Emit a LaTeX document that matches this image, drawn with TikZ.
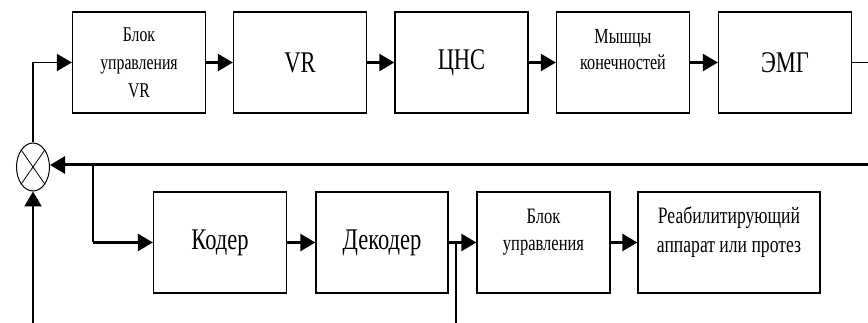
\documentclass[tikz,border=0pt]{standalone}
\usepackage{fontspec}
\usetikzlibrary{arrows.meta,shapes.geometric}
\newfontfamily\blockfont[FakeStretch=0.75]{Liberation Serif}

\tikzset{
	blockbox/.style={draw, line width=1.3pt, minimum width=133pt, minimum height=101pt,
		align=center, inner sep=2pt, font=\blockfont\fontsize{30}{34}\selectfont},
	smalltext/.style={font=\blockfont\fontsize{21}{28}\selectfont},
	raised/.style={text depth=#1},
	flow/.style={line width=2.2pt, -{Triangle[length=15pt,width=17pt]}},
	wire/.style={line width=1.2pt}
}

\begin{document}
\begin{tikzpicture}[x=1pt, y=-1pt]
	\useasboundingbox (0,0) rectangle (868,323);
	
	\node[blockbox, smalltext] (ctrlvr) at (139,62.5) {Блок\\управления\\VR};
	\node[blockbox] (vr) at (300,62.5) {VR};
	\node[blockbox] (cns) at (461.5,62.5) {ЦНС};
	\node[blockbox, font=\blockfont\fontsize{21.5}{26}\selectfont, raised=26pt] (muscle) at (623,62.5) {Мышцы\\конечностей};
	\node[blockbox] (emg) at (785,62.5) {ЭМГ};
	
	\node[blockbox] (coder) at (220,242.5) {Кодер};
	\node[blockbox, minimum width=132pt] (decoder) at (382,242.5) {Декодер};
	\node[blockbox, font=\blockfont\fontsize{22}{27}\selectfont, raised=26pt] (ctrl) at (543.5,242.5) {Блок\\управления};
	\node[blockbox, minimum width=182pt, font=\blockfont\fontsize{23.5}{29}\selectfont, raised=26pt] (rehab) at (729,242.5) {Реабилитирующий\\аппарат или протез};
	
	\node[draw, ellipse, line width=1pt, minimum width=33pt, minimum height=48pt, inner sep=0pt] (sum) at (33,167) {};
	\draw[line width=0.8pt] (sum.north west) -- (sum.south east);
	\draw[line width=0.8pt] (sum.north east) -- (sum.south west);
	
	\coordinate (turn) at (874,165);
	\coordinate (split) at (93,165);
	\coordinate (in) at (33,330);
	\coordinate (tap) at (456,330);
	
	\draw[flow, line width=1.8pt] (sum.north) |- (ctrlvr.west);
	\draw[flow] (ctrlvr) -- (vr);
	\draw[flow] (vr) -- (cns);
	\draw[flow] (cns) -- (muscle);
	\draw[flow] (muscle) -- (emg);
	\draw[wire] (emg.east) -| (turn);
	\draw[flow, line width=3pt] (turn) -- (sum.east |- turn);
	
	\draw[wire, line width=1.5pt] (split) -- (split |- coder.west);
	\draw[flow, line width=2.5pt] (split |- coder.west) -- (coder.west);
	\draw[flow, line width=2.5pt] (coder) -- (decoder);
	\draw[flow, line width=2.5pt] (decoder) -- (ctrl);
	\draw[flow, line width=2.5pt] (ctrl) -- (rehab);
	\draw[wire] (tap) -- (tap |- decoder.east);
	
	\draw[flow, line width=2.2pt] (in) -- (sum.south);
\end{tikzpicture}
\end{document}
